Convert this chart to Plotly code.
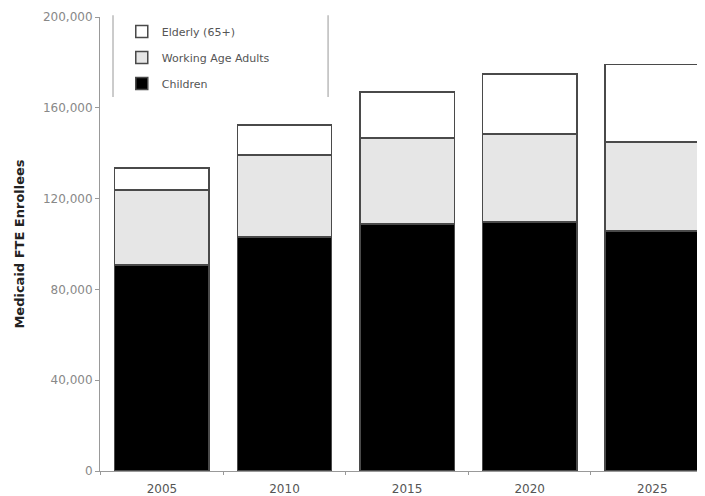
import plotly.graph_objects as go

years = ["2005", "2010", "2015", "2020", "2025"]
children = [90700, 103000, 108800, 109700, 105700]
working = [33100, 36200, 37900, 38800, 39300]
elderly = [9700, 13200, 20300, 26500, 34000]

y_ticks = [0, 40000, 80000, 120000, 160000, 200000]
y_ticklabels = ["0", "40,000", "80,000", "120,000", "160,000", "200,000"]

outline = dict(color="#4a4a4a", width=1.5)

fig = go.Figure()
fig.add_trace(go.Bar(x=years, y=children, name="Children", legendgroup="c",
                     legendrank=3,
                     marker=dict(color="#000000", line=outline)))
fig.add_trace(go.Bar(x=years, y=working, name="Working Age Adults", legendgroup="w",
                     legendrank=2,
                     marker=dict(color="#e6e6e6", line=outline)))
fig.add_trace(go.Bar(x=years, y=elderly, name="Elderly (65+)", legendgroup="e",
                     legendrank=1,
                     marker=dict(color="#ffffff", line=outline)))

fig.update_layout(
    width=697, height=488,
    margin=dict(l=92, r=0, t=9, b=25),
    barmode="stack", bargap=0.23,
    paper_bgcolor="white", plot_bgcolor="white",
    font=dict(family="DejaVu Sans", size=11, color="#666666"),
    showlegend=True,
    legend=dict(x=0.036, y=1.0, xanchor="left", yanchor="top",
                traceorder="grouped", bgcolor="rgba(0,0,0,0)",
                font=dict(size=11, color="#555555"),
                tracegroupgap=7),
    xaxis=dict(range=[-0.505, 4.43], showgrid=False, showline=True,
               linecolor="#999999", linewidth=1, ticks="outside",
               tickson="boundaries", ticklen=3, tickcolor="#999999",
               ticklabelstandoff=7, automargin=False,
               tickfont=dict(size=12, color="#555555")),
    yaxis=dict(range=[0, 200000], tickvals=y_ticks, ticktext=y_ticklabels,
               showgrid=False, showline=True, linecolor="#999999",
               linewidth=1, ticks="outside", ticklen=4, tickcolor="#999999",
               zeroline=False, automargin=False,
               tickfont=dict(size=12, color="#888888"),
               title=dict(text="<b>Medicaid FTE Enrollees</b>", standoff=15,
                          font=dict(size=13, color="#222222"))),
)

for xp in [0.0215, 0.377]:
    fig.add_shape(type="line", xref="paper", yref="paper",
                  x0=xp, x1=xp, y0=0.824, y1=1.004,
                  line=dict(color="#bbbbbb", width=1.5))

fig.write_html("out.html")
